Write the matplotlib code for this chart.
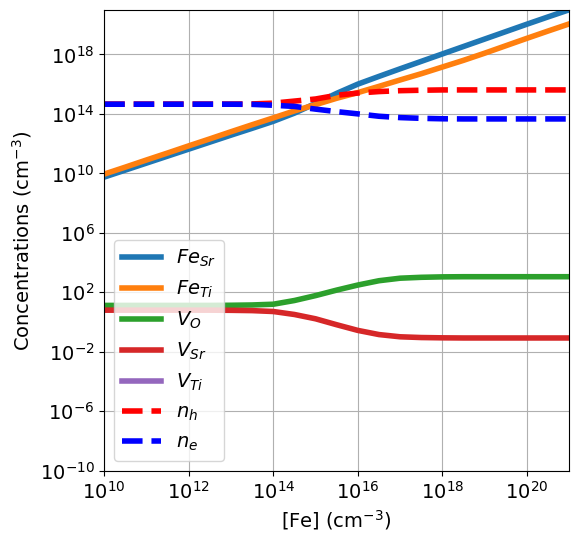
import numpy as np
import matplotlib
matplotlib.use("Agg")
import matplotlib.pyplot as plt

# log10 of [Fe] (cm^-3)
log_fe = [10, 10.5, 11, 11.5, 12, 12.5, 13, 13.5, 14, 14.5, 15, 15.5, 16,
          16.5, 17, 17.5, 18, 18.5, 19, 19.5, 20, 20.5, 21]

# log10 concentrations (cm^-3)
fe_sr = [9.75, 10.22, 10.69, 11.16, 11.63, 12.1, 12.57, 13.03, 13.5, 14.05, 14.7, 15.38, 16.0,
         16.52, 17.03, 17.53, 18.03, 18.53, 19.03, 19.53, 20.03, 20.52, 21.0]
fe_ti = [9.95, 10.42, 10.9, 11.37, 11.85, 12.32, 12.8, 13.27, 13.73, 14.2, 14.62, 15.05, 15.43,
         15.85, 16.28, 16.7, 17.15, 17.6, 18.08, 18.58, 19.08, 19.57, 20.05]
v_o = [1.12, 1.12, 1.12, 1.12, 1.12, 1.12, 1.13, 1.15, 1.2, 1.45, 1.78, 2.15, 2.49,
       2.78, 2.95, 3.01, 3.04, 3.05, 3.05, 3.05, 3.05, 3.05, 3.05]
v_sr = [0.8, 0.8, 0.8, 0.8, 0.8, 0.8, 0.79, 0.77, 0.71, 0.51, 0.22, -0.18, -0.56,
        -0.84, -0.99, -1.04, -1.06, -1.07, -1.07, -1.07, -1.07, -1.07, -1.07]
v_ti = [-15] * 23
n_h = [14.66, 14.66, 14.66, 14.66, 14.66, 14.66, 14.66, 14.67, 14.72, 14.86, 15.0, 15.25, 15.4,
       15.5, 15.56, 15.59, 15.61, 15.61, 15.61, 15.61, 15.61, 15.61, 15.61]
n_e = [14.65, 14.65, 14.65, 14.65, 14.65, 14.65, 14.65, 14.64, 14.58, 14.5, 14.32, 14.15, 14.0,
       13.84, 13.75, 13.7, 13.67, 13.66, 13.66, 13.66, 13.66, 13.66, 13.66]

labels = [r'$Fe_{Sr}$', r'$Fe_{Ti}$', r'$V_O$', r'$V_{Sr}$', r'$V_{Ti}$', r'$n_h$', r'$n_e$']

x = 10.0 ** np.array(log_fe)

fig = plt.figure(figsize=(5.79, 5.43), dpi=100)
ax = fig.add_axes([0.18, 0.133, 0.803, 0.849])

ax.plot(x, 10.0 ** np.array(fe_sr), color='#1f77b4', lw=4, label=labels[0])
ax.plot(x, 10.0 ** np.array(fe_ti), color='#ff7f0e', lw=4, label=labels[1])
ax.plot(x, 10.0 ** np.array(v_o), color='#2ca02c', lw=4, label=labels[2])
ax.plot(x, 10.0 ** np.array(v_sr), color='#d62728', lw=4, label=labels[3])
ax.plot(x, 10.0 ** np.array(v_ti), color='#9467bd', lw=4, label=labels[4])
ax.plot(x, 10.0 ** np.array(n_h), color='red', lw=4, ls='--', label=labels[5])
ax.plot(x, 10.0 ** np.array(n_e), color='blue', lw=4, ls='--', label=labels[6])

ax.set_xscale('log')
ax.set_yscale('log')
ax.set_xlim(1e10, 1e21)
ax.set_ylim(1e-10, 1e21)
ax.set_xticks([1e10, 1e12, 1e14, 1e16, 1e18, 1e20])
ax.set_yticks([1e-10, 1e-6, 1e-2, 1e2, 1e6, 1e10, 1e14, 1e18])
ax.minorticks_off()
ax.tick_params(labelsize=14)
ax.grid(True)
ax.set_xlabel(r'[Fe] (cm$^{-3}$)', fontsize=14)
ax.set_ylabel(r'Concentrations (cm$^{-3}$)', fontsize=14)
ax.legend(loc='lower left', fontsize=14)

fig.savefig('out.png', dpi=100)
